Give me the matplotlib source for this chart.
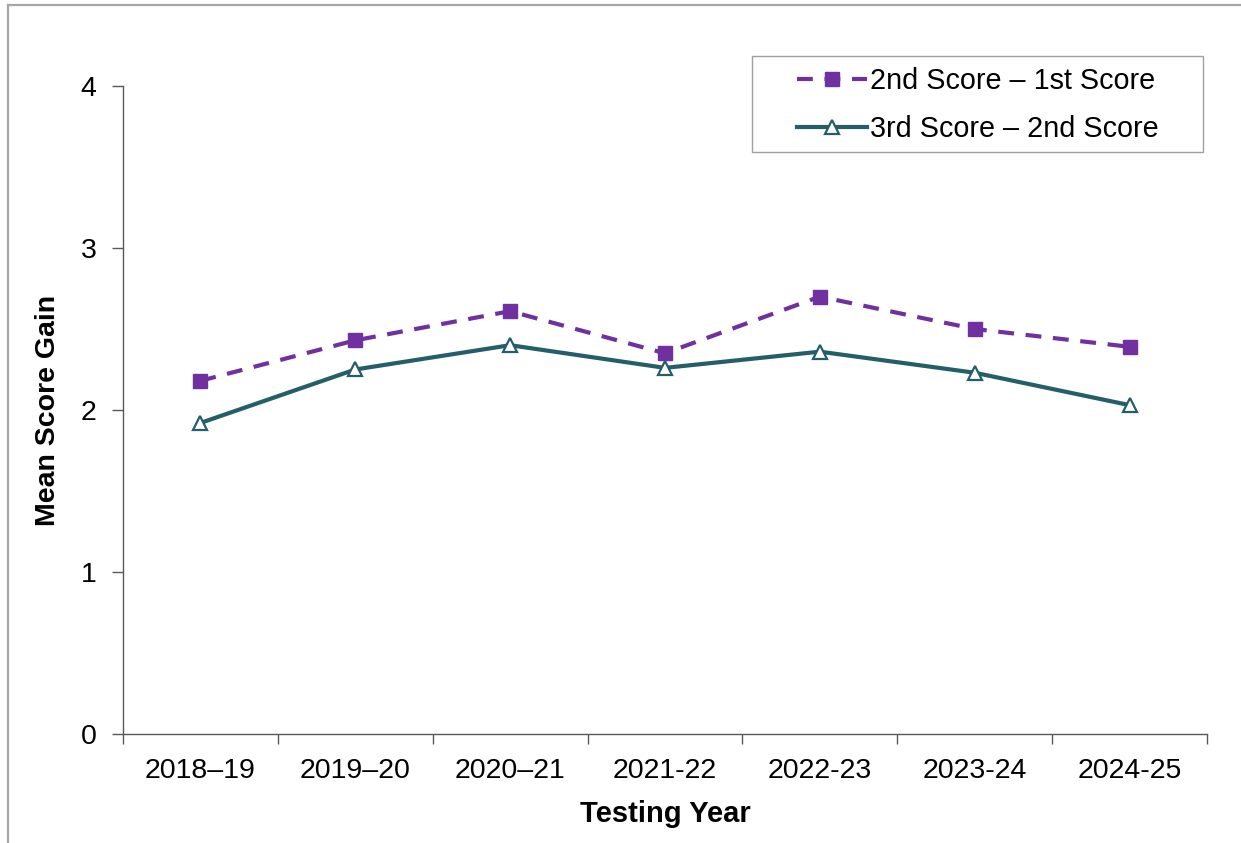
import matplotlib
matplotlib.use("Agg")
import matplotlib.pyplot as plt
from matplotlib.lines import Line2D
from matplotlib.patches import Rectangle

plt.rcParams['font.family'] = ['Liberation Sans', 'DejaVu Sans']

years = ['2018–19', '2019–20', '2020–21', '2021-22', '2022-23', '2023-24', '2024-25']
gain_2nd_1st = [2.18, 2.43, 2.61, 2.35, 2.70, 2.50, 2.39]
gain_3rd_2nd = [1.92, 2.25, 2.40, 2.26, 2.36, 2.23, 2.03]

purple = '#7030A0'
teal = '#245E69'
axis_gray = '#595959'

fig = plt.figure(figsize=(12.41, 8.43), dpi=100)
ax = fig.add_axes([0.0991, 0.1293, 0.8735, 0.7687])

xs = list(range(len(years)))
ax.plot(xs, gain_2nd_1st, color=purple, lw=3.0, linestyle=(0, (3.8, 2.8)),
        marker='s', ms=10.5, mfc=purple, mec=purple, label='2nd Score – 1st Score')
ax.plot(xs, gain_3rd_2nd, color=teal, lw=3.0, marker='^', ms=10.5,
        mfc='white', mec=teal, mew=1.6, label='3rd Score – 2nd Score')

ax.set_xlim(-0.5, len(years) - 0.5)
ax.set_ylim(0, 4)
ax.set_yticks([0, 1, 2, 3, 4])
ax.set_xticks(xs)
ax.set_xticklabels(years)
ax.set_xticks([i - 0.5 for i in range(len(years) + 1)], minor=True)
ax.tick_params(axis='x', which='major', length=0, pad=17.5, labelsize=20.5)
ax.tick_params(axis='x', which='minor', length=7, width=1, color=axis_gray, direction='out')
ax.tick_params(axis='y', length=8, width=1, color=axis_gray, direction='out', pad=11, labelsize=20.5)

for side in ['top', 'right']:
    ax.spines[side].set_visible(False)
for side in ['left', 'bottom']:
    ax.spines[side].set_color(axis_gray)
    ax.spines[side].set_linewidth(1)

ax.set_xlabel('Testing Year', fontsize=21, fontweight='bold', labelpad=11)
ax.set_ylabel('Mean Score Gain', fontsize=20.5, fontweight='bold', labelpad=14)

# legend without its own frame; box drawn separately to get the wide left margin
leg = ax.legend(loc='upper left', bbox_to_anchor=(797 / 1241, 1 - 67 / 843),
                bbox_transform=fig.transFigure, fontsize=20.7, frameon=False,
                handlelength=2.45, borderaxespad=0, borderpad=0,
                labelspacing=0.69, handletextpad=0.1)
fig.add_artist(Rectangle((752 / 1241, 1 - 152 / 843), 451 / 1241, 96 / 843,
                         transform=fig.transFigure, fill=False,
                         edgecolor='#A0A0A0', lw=1))

# outer frame
fig.add_artist(Line2D([8 / 1241, 8 / 1241], [0, 1 - 5 / 843],
                      transform=fig.transFigure, color='#A6A6A6', lw=1.6))
fig.add_artist(Line2D([8 / 1241, 1], [1 - 5 / 843, 1 - 5 / 843],
                      transform=fig.transFigure, color='#A6A6A6', lw=1.6))

fig.savefig('out.png', dpi=100)
